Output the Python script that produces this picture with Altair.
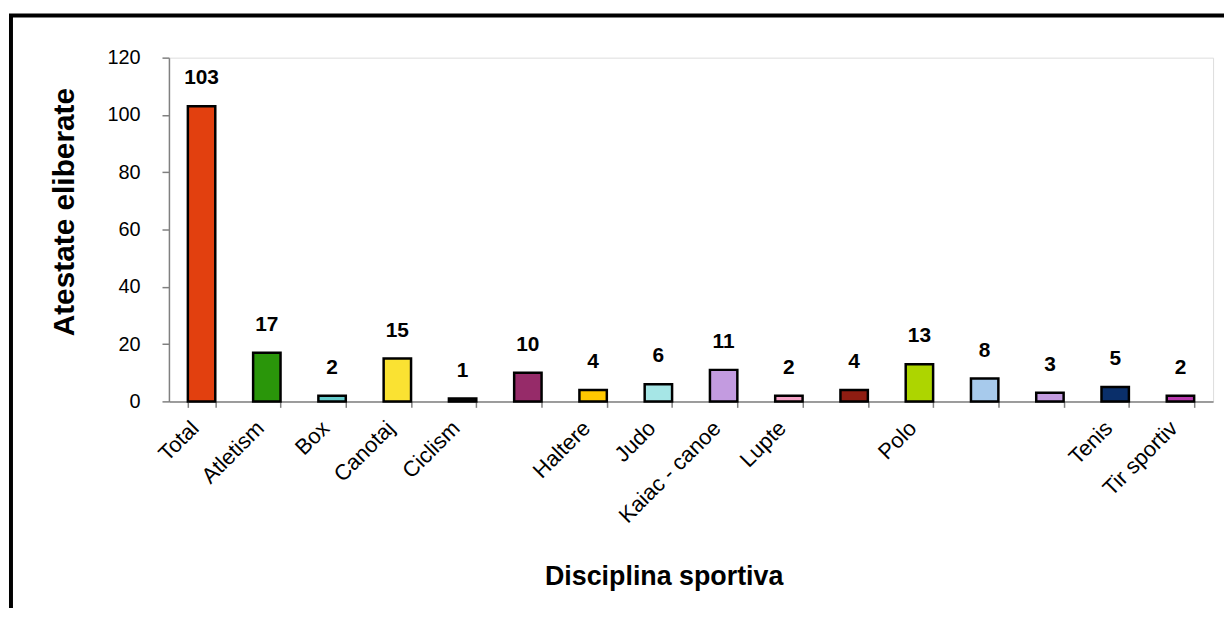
import json
import altair as alt
import pandas as pd

# Data
categories = ["Total", "Atletism", "Box", "Canotaj", "Ciclism", "", "Haltere", "Judo",
              "Kaiac - canoe", "Lupte", "", "Polo", "", "", "Tenis", "Tir sportiv"]
values = [103, 17, 2, 15, 1, 10, 4, 6, 11, 2, 4, 13, 8, 3, 5, 2]
y_ticks = [0, 20, 40, 60, 80, 100, 120]

bar_colors = ["#E2400F", "#2A960A", "#66CCCC", "#FAE232", "#111111", "#962B69",
              "#FFC800", "#A6E6E6", "#C39BE0", "#F5A3C7", "#8F1D12", "#ADD500",
              "#A7CAEC", "#C39BE0", "#0A2F6A", "#B83AAE"]

idx = list(range(len(categories)))
df = pd.DataFrame({"idx": idx, "name": categories, "value": values})

FONT = "Liberation Sans"
label_expr = json.dumps(categories) + "[datum.value]"

x_enc = alt.X(
    "idx:O",
    sort=idx,
    scale=alt.Scale(paddingInner=0.58, paddingOuter=0.29),
    axis=alt.Axis(
        title="Disciplina sportiva",
        labelExpr=label_expr,
        labelAngle=-45,
        labelAlign="right",
        labelBaseline="top",
        labelPadding=10,
        labelOffset=-14,
        labelFontSize=22,
        labelFont=FONT,
        labelColor="black",
        tickBand="extent",
        tickSize=6,
        tickColor="#808080",
        tickWidth=1.5,
        domainColor="#808080",
        domainWidth=1.5,
        titleFont=FONT,
        titleFontSize=27,
        titleFontWeight="bold",
        titleColor="black",
        titleX=498,
        titleY=184,
        titleAlign="center",
        titleBaseline="alphabetic",
        labelOverlap=False,
    ),
)

y_enc = alt.Y(
    "value:Q",
    scale=alt.Scale(domain=[0, 120], nice=False),
    axis=alt.Axis(
        title="Atestate eliberate",
        values=y_ticks,
        grid=False,
        labelFontSize=20,
        labelFont=FONT,
        labelColor="black",
        labelPadding=22,
        tickSize=7,
        tickColor="#808080",
        tickWidth=1.5,
        domainColor="#808080",
        domainWidth=1.5,
        titleFont=FONT,
        titleFontSize=30,
        titleFontWeight="bold",
        titleColor="black",
        titleAngle=-90,
        titleX=-96,
        titleY=155,
        titleAlign="center",
        titleBaseline="alphabetic",
    ),
)

base = alt.Chart(df)

bars = base.mark_bar(stroke="black", strokeWidth=2.5).encode(
    x=x_enc,
    y=y_enc,
    color=alt.Color("idx:O", scale=alt.Scale(domain=idx, range=bar_colors), legend=None),
)

labels = base.mark_text(
    dy=-22, baseline="alphabetic", align="center",
    font=FONT, fontSize=21, fontWeight="bold", color="black",
).encode(
    x=alt.X("idx:O", sort=idx),
    y=alt.Y("value:Q"),
    text=alt.Text("value:Q"),
)

frame = alt.Chart(pd.DataFrame({"f": [0]})).mark_rect(
    filled=False, stroke="black", strokeWidth=4
).encode(
    x=alt.value(-159), x2=alt.value(1100),
    y=alt.value(-42.5), y2=alt.value(620),
)

chart = alt.layer(frame, bars, labels).properties(
    width=1051,
    height=346,
    autosize=alt.AutoSizeParams(type="none"),
    padding={"left": 162, "top": 48, "right": 11, "bottom": 206},
).configure_view(stroke=None).configure(background="white")

chart.save("out.html", embed_options={"renderer": "svg", "actions": False})
